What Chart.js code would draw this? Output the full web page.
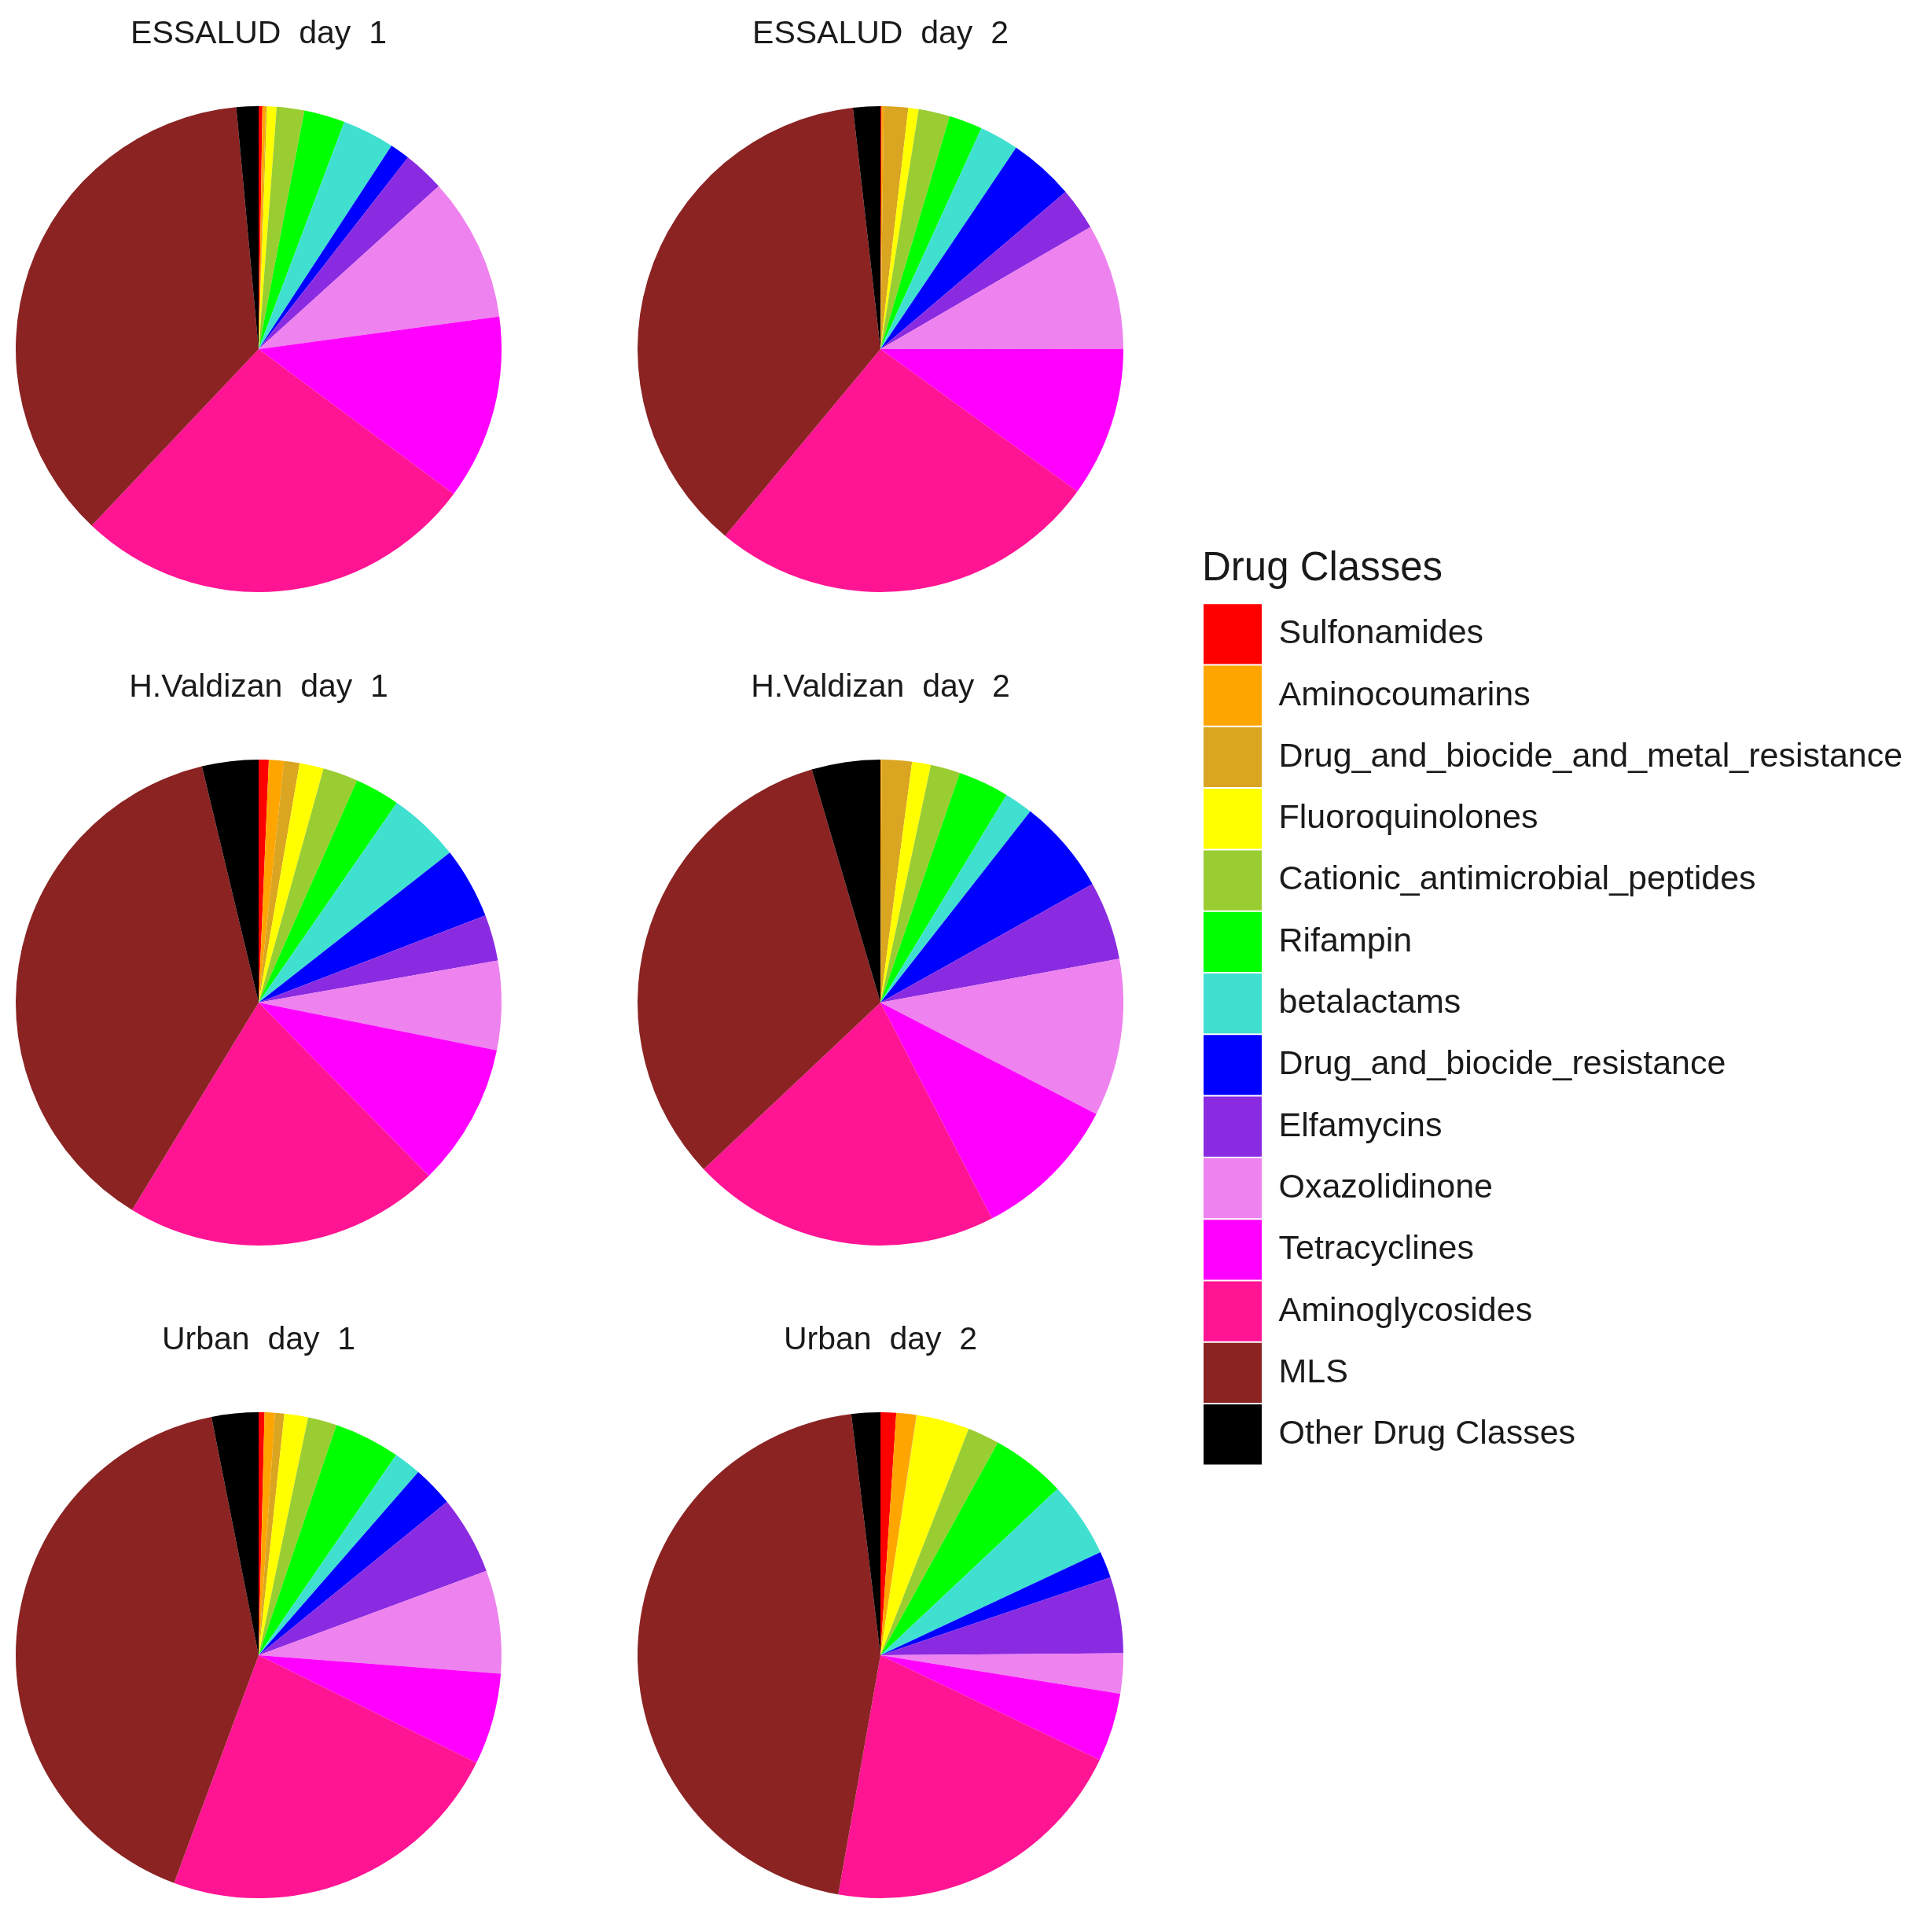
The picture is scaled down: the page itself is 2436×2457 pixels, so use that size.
<!DOCTYPE html>
<html>
<head>
<meta charset="utf-8">
<script src="https://cdn.jsdelivr.net/npm/chart.js@4.4.1/dist/chart.umd.min.js"></script>
<style>
    body { margin: 0; background: #ffffff; }
    #wrap { position: relative; width: 2436px; height: 2457px; overflow: hidden; background: #ffffff; }
    canvas { position: absolute; }
</style>
</head>
<body>
<div id="wrap">
    <canvas id="essalud-1" width="640" height="800" style="left:9px;top:0px"></canvas>
    <canvas id="essalud-2" width="640" height="800" style="left:800px;top:0px"></canvas>
    <canvas id="valdizan-1" width="640" height="800" style="left:9px;top:831px"></canvas>
    <canvas id="valdizan-2" width="640" height="800" style="left:800px;top:831px"></canvas>
    <canvas id="urban-1" width="640" height="800" style="left:9px;top:1661px"></canvas>
    <canvas id="urban-2" width="640" height="800" style="left:800px;top:1661px"></canvas>
    <canvas id="legend-chart" width="906" height="1220" style="left:1529px;top:680px"></canvas>
</div>
<script>
// drug classes, in the order R draws them (clockwise from 12 o'clock)
const drugClasses = ["Sulfonamides", "Aminocoumarins", "Drug_and_biocide_and_metal_resistance",
    "Fluoroquinolones", "Cationic_antimicrobial_peptides", "Rifampin", "betalactams",
    "Drug_and_biocide_resistance", "Elfamycins", "Oxazolidinone", "Tetracyclines",
    "Aminoglycosides", "MLS", "Other Drug Classes"];
const classColors = ["#ff0000", "#ffa500", "#daa520", "#ffff00", "#9acd32", "#00ff00", "#40e0d0",
    "#0000ff", "#8a2be2", "#ee82ee", "#ff00ff", "#ff1493", "#8b2323", "#000000"];

// relative abundance (%)
const essaludDay1 = [0.25, 0.22, 0.08, 0.64, 1.83, 2.72, 3.47, 1.33, 2.75, 9.56, 12.31, 26.89, 36.47, 1.47];
const essaludDay2 = [0.08, 0.14, 1.61, 0.69, 2.08, 2.22, 2.61, 4.36, 2.83, 8.36, 9.97, 26.08, 37.14, 1.81];
const valdizanDay1 = [0.67, 1.0, 1.03, 1.61, 2.33, 3.0, 4.78, 4.75, 3.06, 5.92, 9.5, 21.08, 37.53, 3.75];
const valdizanDay2 = [0, 0.08, 2.0, 1.25, 1.97, 3.39, 1.89, 6.31, 5.22, 10.47, 9.83, 20.56, 32.47, 4.56];
const urbanDay1 = [0.39, 0.69, 0.61, 1.58, 1.92, 4.39, 1.83, 2.72, 5.22, 6.86, 6.08, 23.36, 41.22, 3.11];
const urbanDay2 = [1.04, 1.32, 0.03, 3.53, 2.11, 4.97, 5.03, 1.78, 5.06, 2.67, 4.56, 20.69, 45.31, 1.92];

const fontFamily = '"Liberation Sans", Arial, sans-serif';
const textColor = "#1a1a1a";

function makePie(id, title, values) {
    new Chart(document.getElementById(id), {
        type: 'pie',
        data: {
            labels: drugClasses,
            datasets: [{
                data: values,
                backgroundColor: classColors,
                borderWidth: 0,
                hoverOffset: 0,
                radius: 309
            }]
        },
        options: {
            responsive: false,
            animation: false,
            layout: { padding: 0 },
            plugins: {
                legend: { display: false },
                tooltip: { enabled: false },
                title: {
                    display: true,
                    text: title,
                    color: textColor,
                    font: { family: fontFamily, size: 41, weight: 'normal', lineHeight: 1.2 },
                    padding: { top: 19.4, bottom: 19.4 }
                }
            }
        }
    });
}

makePie("essalud-1", "ESSALUD  day  1", essaludDay1);
makePie("essalud-2", "ESSALUD  day  2", essaludDay2);
makePie("valdizan-1", "H.Valdizan  day  1", valdizanDay1);
makePie("valdizan-2", "H.Valdizan  day  2", valdizanDay2);
makePie("urban-1", "Urban  day  1", urbanDay1);
makePie("urban-2", "Urban  day  2", urbanDay2);

// shared legend, drawn by its own chart (dataset hidden)
new Chart(document.getElementById("legend-chart"), {
    type: 'pie',
    data: {
        labels: drugClasses,
        datasets: [{
            data: essaludDay1,
            backgroundColor: classColors,
            borderWidth: 0,
            hidden: true
        }]
    },
    options: {
        responsive: false,
        animation: false,
        layout: { padding: 0 },
        plugins: {
            tooltip: { enabled: false },
            title: { display: false },
            legend: {
                display: true,
                position: 'left',
                align: 'start',
                maxWidth: 900,
                title: {
                    display: true,
                    text: 'Drug Classes',
                    position: 'start',
                    color: textColor,
                    font: { family: fontFamily, size: 51, weight: 'normal', lineHeight: 1.2 },
                    padding: { top: 18, bottom: 7 }
                },
                labels: {
                    boxWidth: 74,
                    boxHeight: 76.3,
                    padding: 2,
                    color: textColor,
                    font: { family: fontFamily, size: 43, weight: 'normal' }
                }
            }
        }
    }
});
</script>
</body>
</html>
